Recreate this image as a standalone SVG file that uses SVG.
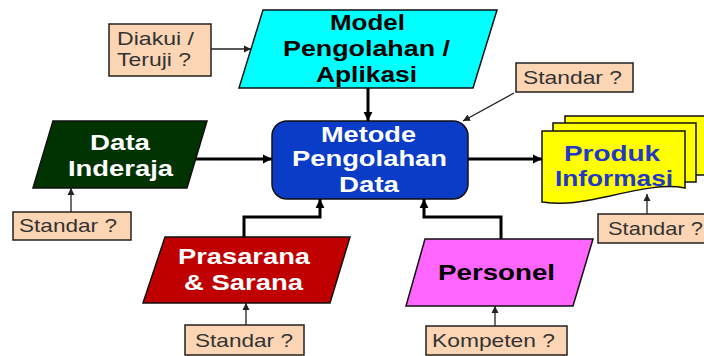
<svg xmlns="http://www.w3.org/2000/svg" width="704" height="356" viewBox="0 0 704 356">
<defs>
<style>
.lbl{font-family:"Liberation Sans",Arial,sans-serif;font-size:19px;fill:#333;}
.ttl{font-family:"Liberation Sans",Arial,sans-serif;font-size:22px;font-weight:bold;text-anchor:start;}
.box{fill:#fcd5b4;stroke:#222;stroke-width:1.5;}
.shp{stroke:#111;stroke-width:1.5;}
.thick{fill:none;stroke:#000;stroke-width:3;marker-end:url(#ah);}
.thin{fill:none;stroke:#222;stroke-width:1.3;marker-end:url(#as);}
</style>
<marker id="ah" markerUnits="userSpaceOnUse" markerWidth="10" markerHeight="10" refX="9" refY="5" orient="auto"><path d="M0,0.5 L9,5 L0,9.5 z" fill="#000"/></marker>
<marker id="as" markerUnits="userSpaceOnUse" markerWidth="8" markerHeight="8" refX="7" refY="4" orient="auto"><path d="M0,0.5 L7,4 L0,7.5 z" fill="#222"/></marker>
</defs>
<rect width="704" height="356" fill="#fff"/>

<g id="connectors">
<path class="thin" d="M211,49 H251"/>
<path class="thick" d="M368,88 V121"/>
<path class="thin" d="M514,93 L463,121"/>
<path class="thick" d="M196,159 H272"/>
<path class="thin" d="M71,212 V188"/>
<path class="thick" d="M468,159 H542"/>
<path class="thin" d="M647,214 V194"/>
<path class="thick" d="M244,237 V217 H320 V199"/>
<path class="thin" d="M246,325 V303"/>
<path class="thick" d="M501,239 V217 H424 V199"/>
<path class="thin" d="M495,326 V306"/>
</g>

<g id="model">
<polygon class="shp" points="263,10 497,10 473,88 239,88" fill="#00ffff"/>
<text class="ttl" fill="#000" x="330" y="30" textLength="75" lengthAdjust="spacingAndGlyphs">Model</text>
<text class="ttl" fill="#000" x="283" y="56" textLength="167" lengthAdjust="spacingAndGlyphs">Pengolahan /</text>
<text class="ttl" fill="#000" x="316" y="82" textLength="101" lengthAdjust="spacingAndGlyphs">Aplikasi</text>
</g>

<g id="diakui">
<rect class="box" x="109" y="24" width="102" height="52"/>
<text class="lbl" x="117" y="45" textLength="77" lengthAdjust="spacingAndGlyphs">Diakui /</text>
<text class="lbl" x="117" y="66" textLength="74" lengthAdjust="spacingAndGlyphs">Teruji ?</text>
</g>

<g id="standar-metode">
<rect class="box" x="516" y="63" width="117" height="29"/>
<text class="lbl" x="523" y="84" textLength="99" lengthAdjust="spacingAndGlyphs">Standar ?</text>
</g>

<g id="metode">
<rect class="shp" x="272" y="121" width="196" height="78" rx="15" fill="#0a3cc8"/>
<text class="ttl" fill="#fff" x="321" y="142" textLength="95" lengthAdjust="spacingAndGlyphs">Metode</text>
<text class="ttl" fill="#fff" x="292" y="166" textLength="155" lengthAdjust="spacingAndGlyphs">Pengolahan</text>
<text class="ttl" fill="#fff" x="339" y="192" textLength="60" lengthAdjust="spacingAndGlyphs">Data</text>
</g>

<g id="data-inderaja">
<polygon class="shp" points="53,121 207,121 187,188 33,188" fill="#003300"/>
<text class="ttl" fill="#fff" x="90" y="150" textLength="60" lengthAdjust="spacingAndGlyphs">Data</text>
<text class="ttl" fill="#fff" x="68" y="176" textLength="105" lengthAdjust="spacingAndGlyphs">Inderaja</text>
</g>

<g id="standar-data">
<rect class="box" x="13" y="212" width="118" height="28"/>
<text class="lbl" x="19" y="232" textLength="98" lengthAdjust="spacingAndGlyphs">Standar ?</text>
</g>

<g id="produk">
<path class="shp" d="M565,116 H712 V175 H565 Z" fill="#ffff00"/>
<path class="shp" d="M553,123 H696 V182 H553 Z" fill="#ffff00"/>
<path class="shp" d="M542,131 H685 V188 C665,184 640,189 610,196 C590,200 570,206 542,202 Z" fill="#ffff00"/>
<text class="ttl" fill="#2238c8" x="564" y="161" textLength="96" lengthAdjust="spacingAndGlyphs">Produk</text>
<text class="ttl" fill="#2238c8" x="555" y="186" textLength="118" lengthAdjust="spacingAndGlyphs">Informasi</text>
</g>

<g id="standar-produk">
<rect class="box" x="598" y="214" width="112" height="29"/>
<text class="lbl" x="608" y="235" textLength="95" lengthAdjust="spacingAndGlyphs">Standar ?</text>
</g>

<g id="prasarana">
<polygon class="shp" points="165,237 350,237 330,303 143,303" fill="#c00000"/>
<text class="ttl" fill="#fff" x="178" y="264" textLength="132" lengthAdjust="spacingAndGlyphs">Prasarana</text>
<text class="ttl" fill="#fff" x="184" y="290" textLength="119" lengthAdjust="spacingAndGlyphs">&amp; Sarana</text>
</g>

<g id="standar-prasarana">
<rect class="box" x="185" y="325" width="119" height="30"/>
<text class="lbl" x="195" y="347" textLength="98" lengthAdjust="spacingAndGlyphs">Standar ?</text>
</g>

<g id="personel">
<polygon class="shp" points="425,239 593,239 573,306 406,306" fill="#ff66ff"/>
<text class="ttl" fill="#000" x="438" y="280" textLength="117" lengthAdjust="spacingAndGlyphs">Personel</text>
</g>

<g id="kompeten">
<rect class="box" x="426" y="326" width="141" height="29"/>
<text class="lbl" x="432" y="347" textLength="123" lengthAdjust="spacingAndGlyphs">Kompeten ?</text>
</g>
</svg>
